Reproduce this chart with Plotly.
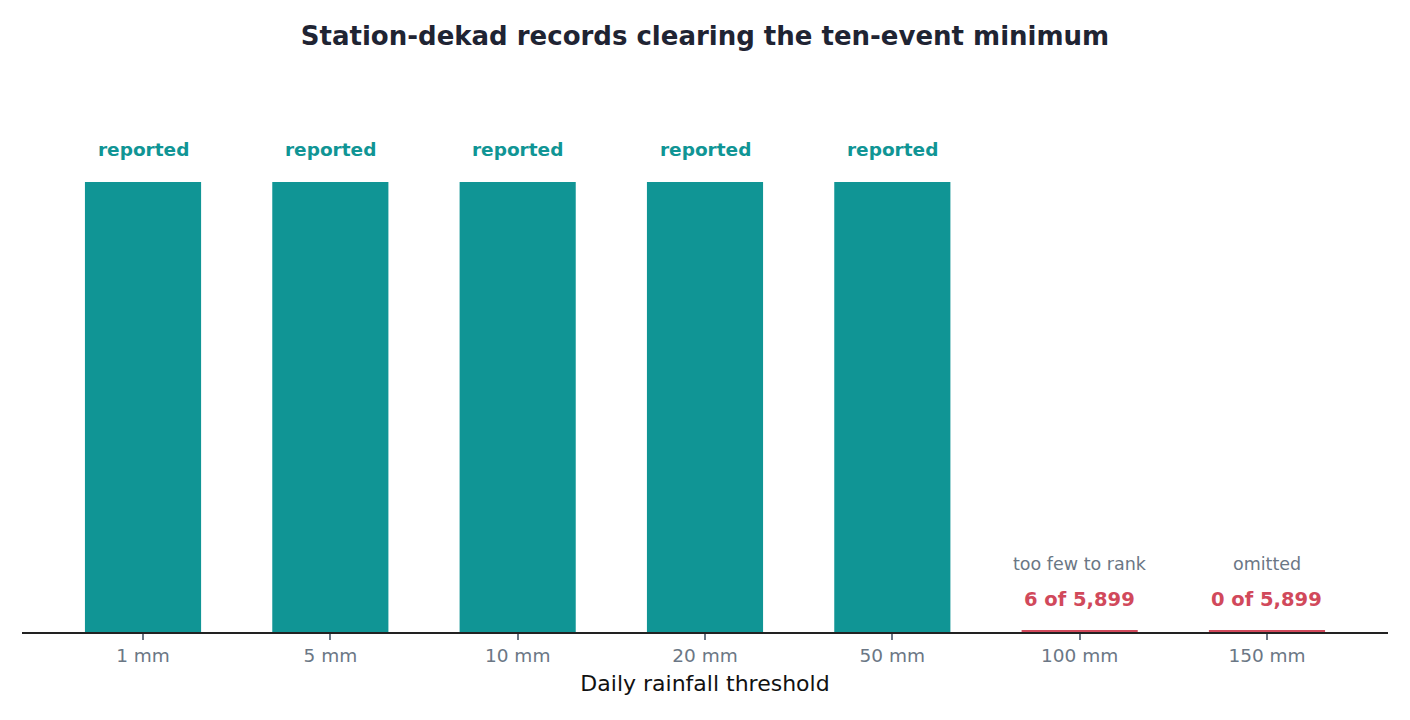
import plotly.graph_objects as go

# thresholds and how many station-dekad records clear the ten-event minimum
thresholds = ["1 mm", "5 mm", "10 mm", "20 mm", "50 mm", "100 mm", "150 mm"]
records = [5899, 5899, 5899, 5899, 5899, 6, 0]
total = 5899
status = ["reported", "reported", "reported", "reported", "reported",
          "too few to rank", "omitted"]

TEAL = "#109595"
RED = "#d1495b"
SLATE = "#6b7785"
FONT = "DejaVu Sans"

# thin stub so empty thresholds still show where the bar would be
stub = total * 0.003
shown = [v if s == "reported" else max(v, stub) for v, s in zip(records, status)]
colors = [TEAL if s == "reported" else RED for s in status]

fig = go.Figure(
    go.Bar(
        x=thresholds,
        y=shown,
        marker=dict(color=colors, line=dict(width=0)),
        width=0.62,
        hoverinfo="skip",
    )
)

for th, v, s in zip(thresholds, records, status):
    if s == "reported":
        fig.add_annotation(
            x=th, y=v, text="<b>reported</b>", showarrow=False,
            yanchor="bottom", yshift=20,
            font=dict(family=FONT, size=18.5, color=TEAL),
        )
    else:
        fig.add_annotation(
            x=th, y=0, text="<b>{} of {:,}</b>".format(v, total), showarrow=False,
            yanchor="bottom", yshift=19,
            font=dict(family=FONT, size=19.5, color=RED),
        )
        fig.add_annotation(
            x=th, y=0, text=s, showarrow=False,
            yanchor="bottom", yshift=56,
            font=dict(family=FONT, size=17.5, color=SLATE),
        )

# page body has an 8px margin, so size the figure to sit inside the window
fig.update_layout(
    width=1394,
    height=704,
    margin=dict(l=14, r=14, t=62, b=80),
    paper_bgcolor="white",
    plot_bgcolor="white",
    showlegend=False,
    font=dict(family=FONT),
    title=dict(
        text="<b>Station-dekad records clearing the ten-event minimum</b>",
        x=0.5, xanchor="center", y=0.960, yanchor="middle",
        font=dict(family=FONT, size=26, color="#1f2433"),
    ),
    xaxis=dict(
        range=[-0.646, 6.646],
        showline=True, linecolor="#222222", linewidth=1.5,
        ticks="outside", ticklen=6, tickcolor=SLATE, tickwidth=1.5,
        tickfont=dict(family=FONT, size=18.5, color=SLATE),
        title=dict(text="Daily rainfall threshold",
                   font=dict(family=FONT, size=22, color="#111111"),
                   standoff=11),
        showgrid=False,
    ),
    yaxis=dict(
        range=[0, total * 1.249],
        visible=False,
        showgrid=False,
        zeroline=False,
    ),
)

fig.write_html("out.html")
